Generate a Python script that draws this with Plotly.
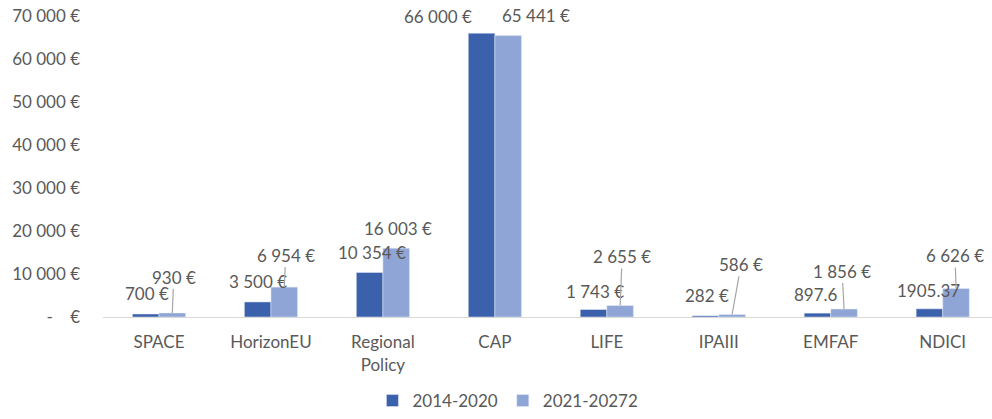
import plotly.graph_objects as go

categories = ["SPACE", "HorizonEU", "Regional<br>Policy", "CAP", "LIFE", "IPAIII", "EMFAF", "NDICI"]
values_2014 = [700, 3500, 10354, 66000, 1743, 282, 897.6, 1905.37]
values_2021 = [930, 6954, 16003, 65441, 2655, 586, 1856, 6626]
labels_2014 = ["700\u00a0€", "3\u00a0500\u00a0€", "10\u00a0354\u00a0€", "66\u00a0000\u00a0€", "1\u00a0743\u00a0€", "282\u00a0€", "897.6", "1905.37"]
labels_2021 = ["930\u00a0€", "6\u00a0954\u00a0€", "16\u00a0003\u00a0€", "65\u00a0441\u00a0€", "2\u00a0655\u00a0€", "586\u00a0€", "1\u00a0856\u00a0€", "6\u00a0626\u00a0€"]
tick_vals = [0, 10000, 20000, 30000, 40000, 50000, 60000, 70000]
tick_text = ["-\u00a0\u00a0\u00a0\u00a0€", "10\u00a0000\u00a0€", "20\u00a0000\u00a0€", "30\u00a0000\u00a0€",
             "40\u00a0000\u00a0€", "50\u00a0000\u00a0€", "60\u00a0000\u00a0€", "70\u00a0000\u00a0€"]

# label placement (pixel offsets of label centre from bar top; leader line or not)
off_2014 = [(1, -20), (0.5, -20), (2, -20), (-44, -17), (1, -18), (1, -20), (-1, -19), (-1, -18)]
off_2021 = [(1.5, -36, True), (1.5, -32, True), (2, -20, False), (27.5, -20, False),
            (2, -49, True), (9, -50, True), (-2, -38, True), (-1, -33, True)]

DARK = "#3B61AC"
LIGHT = "#8FA5D5"
TXT = "#595959"
FONT = "Lato, Carlito, Calibri, sans-serif"
FS = 17
HALF = 13.3  # half bar width in px (bar offset from category centre)

fig = go.Figure()
fig.add_trace(go.Bar(x=categories, y=values_2014, name="2014-2020", marker_color=DARK))
fig.add_trace(go.Bar(x=categories, y=values_2021, name="2021-20272", marker_color=LIGHT))

annotations = []
for c, v, t, (dx, dy) in zip(categories, values_2014, labels_2014, off_2014):
    annotations.append(dict(x=c, y=v, text=t, showarrow=False, xshift=-HALF + dx, yshift=-dy,
                            font=dict(size=FS, color=TXT, family=FONT)))
for c, v, t, (dx, dy, arrow) in zip(categories, values_2021, labels_2021, off_2021):
    if arrow:
        annotations.append(dict(x=c, y=v, text=t, showarrow=True, xshift=HALF, ax=dx, ay=dy,
                                arrowhead=0, arrowwidth=1.2, arrowcolor="#A6A6A6",
                                font=dict(size=FS, color=TXT, family=FONT)))
    else:
        annotations.append(dict(x=c, y=v, text=t, showarrow=False, xshift=HALF + dx, yshift=-dy,
                                font=dict(size=FS, color=TXT, family=FONT)))

fig.update_layout(
    width=992, height=419,
    margin=dict(l=103, r=0, t=16, b=97),
    plot_bgcolor="white", paper_bgcolor="white",
    barmode="group", bargap=0.525, bargroupgap=0,
    font=dict(family=FONT, size=FS, color=TXT),
    showlegend=True,
    legend=dict(orientation="h", x=0.4555, xanchor="center", y=-0.28, yanchor="middle",
                font=dict(size=FS, color=TXT), itemwidth=30, traceorder="normal"),
    annotations=annotations,
)
fig.update_xaxes(range=[-0.5, 7.44], showgrid=False, showline=True, linecolor="#D9D9D9", linewidth=1,
                 tickfont=dict(size=FS, color=TXT), ticks="", automargin=False,
                 ticklabelstandoff=10)
fig.update_yaxes(range=[0, 70000], tickvals=tick_vals, ticktext=tick_text, showgrid=False,
                 zeroline=False, showline=False, tickfont=dict(size=FS, color=TXT), ticks="",
                 ticklabelstandoff=22, automargin=False)

post = ("var s=document.documentElement.style;s.margin='0';s.padding='0';s.overflow='hidden';"
        "var b=document.body.style;b.margin='0';b.padding='0';b.overflow='hidden';"
        "b.height='419px';b.width='992px';")
fig.write_html("out.html", post_script=post, config={"displayModeBar": False})
